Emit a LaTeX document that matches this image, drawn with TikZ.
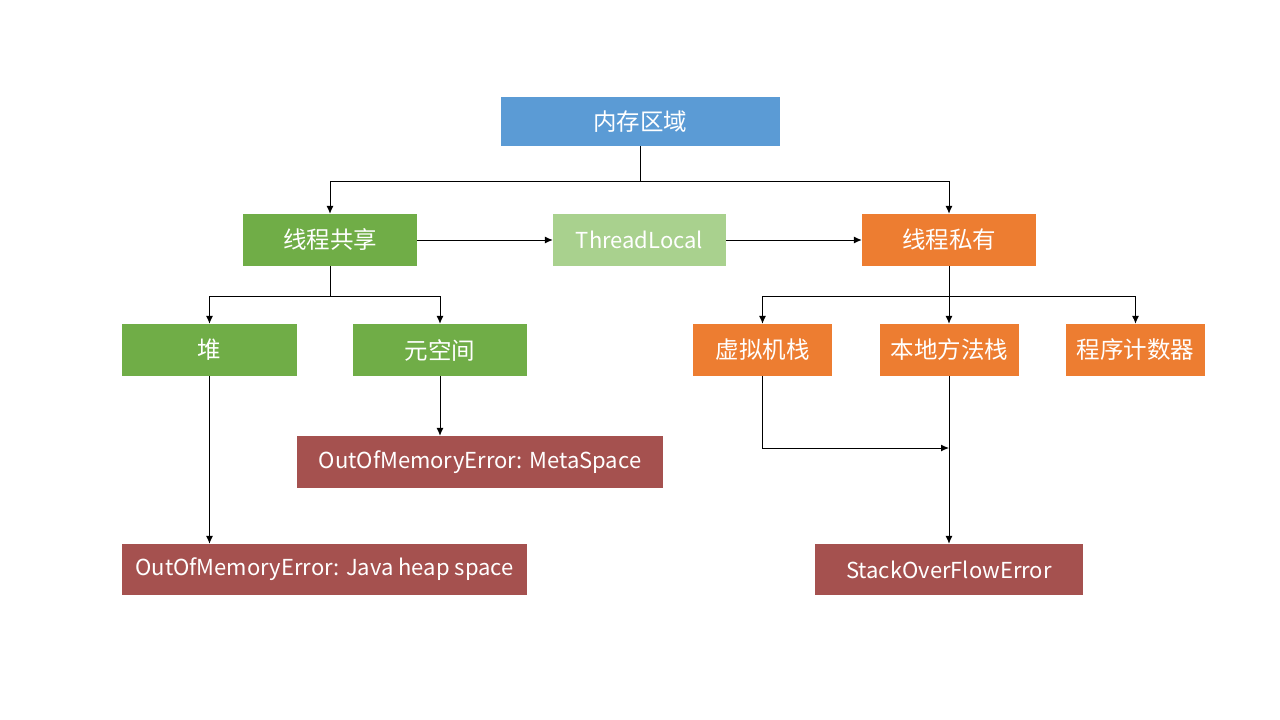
\documentclass[tikz,border=0pt]{standalone}
\usepackage{fontspec}
\setmainfont{Noto Sans CJK SC}
\usetikzlibrary{arrows.meta}
\definecolor{cblue}{RGB}{91,155,213}
\definecolor{cgreen}{RGB}{112,173,71}
\definecolor{clgreen}{RGB}{169,209,142}
\definecolor{corange}{RGB}{237,125,49}
\definecolor{cred}{RGB}{165,81,79}
\tikzset{
  box/.style={draw=none, text=white, inner sep=0pt, minimum height=52pt,
    font=\fontsize{22}{26}\selectfont},
  cjk/.style={font=\fontsize{23.5}{28}\selectfont},
  conn/.style={line width=1pt, -{Latex[length=8pt,width=7pt]}},
  seg/.style={line width=1pt},
}
\begin{document}
\begin{tikzpicture}[x=1pt,y=-1pt]
\useasboundingbox[fill=white] (0,0) rectangle (1280,720);
% nodes
\node[box, cjk, fill=cblue, minimum width=279pt, minimum height=49pt] (root) at (640,121.5) {内存区域};
\node[box, cjk, fill=cgreen, minimum width=174pt] (shared) at (330,240) {线程共享};
\node[box, fill=clgreen, minimum width=173pt] (tl) at (639.5,240) {ThreadLocal};
\node[box, cjk, fill=corange, minimum width=174pt] (private) at (949,240) {线程私有};
\node[box, cjk, fill=cgreen, minimum width=175pt] (heap) at (209.5,350) {堆};
\node[box, cjk, fill=cgreen, minimum width=174pt] (meta) at (440,350) {元空间};
\node[box, cjk, fill=corange, minimum width=139pt] (vms) at (762.5,350) {虚拟机栈};
\node[box, cjk, fill=corange, minimum width=139pt] (nms) at (949.5,350) {本地方法栈};
\node[box, cjk, fill=corange, minimum width=139pt] (pc) at (1135.5,350) {程序计数器};
\node[box, fill=cred, minimum width=366pt] (oomm) at (480,462) {OutOfMemoryError: MetaSpace};
\node[box, fill=cred, minimum width=405pt, minimum height=51pt] (oomh) at (324.5,569.5) {OutOfMemoryError: Java heap space};
\node[box, fill=cred, minimum width=268pt, minimum height=51pt] (soe) at (949,569.5) {StackOverFlowError};
% coordinates
\coordinate (j1) at (640,181);
\coordinate (j2) at (330,296);
\coordinate (j3) at (949,296);
\coordinate (j5) at (949,448);
% connectors
\draw[seg] (root.south) -- (j1);
\draw[conn] (j1) -| (shared.north);
\draw[conn] (j1) -| (private.north);
\draw[conn] (shared.east) -- (tl.west);
\draw[conn] (tl.east) -- (private.west);
\draw[seg] (shared.south) -- (j2);
\draw[conn] (j2) -| (heap.north);
\draw[conn] (j2) -| (meta.north);
\draw[seg] (private.south) -- (j3);
\draw[conn] (j3) -| (vms.north);
\draw[conn] (j3) -- (j3 |- nms.north);
\draw[conn] (j3) -| (pc.north);
\draw[conn] (meta.south) -- (oomm.north -| meta.south);
\draw[conn] (heap.south) -- (oomh.north -| heap.south);
\draw[conn] (j3 |- nms.south) -- (soe.north);
\draw[conn] (vms.south) |- (j5);
\end{tikzpicture}
\end{document}
